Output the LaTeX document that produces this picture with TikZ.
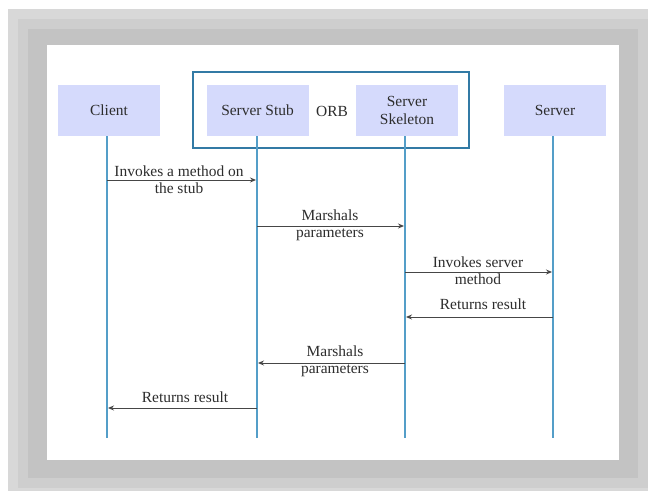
\documentclass[tikz,border=0pt]{standalone}
\usepackage{fontspec}
\setmainfont{Liberation Serif}
\usetikzlibrary{arrows.meta}
\definecolor{fr1}{RGB}{216,216,216}
\definecolor{fr2}{RGB}{206,206,206}
\definecolor{fr3}{RGB}{195,195,195}
\definecolor{boxfill}{RGB}{213,218,252}
\definecolor{orbblue}{RGB}{50,122,165}
\definecolor{lifeblue}{RGB}{84,158,200}
\definecolor{msgcol}{RGB}{70,70,70}
\definecolor{txtcol}{RGB}{45,45,45}
\tikzset{
  actor/.style={fill=boxfill, draw=none, minimum width=102bp, minimum height=51bp,
    inner sep=0pt, align=center, font=\fontsize{15.5}{18}\selectfont, text=txtcol},
  lifeline/.style={draw=lifeblue, line width=2bp},
  msg/.style={draw=msgcol, line width=0.9bp, -{Stealth[length=6bp,width=5bp]}},
  lbl/.style={align=center, font=\fontsize{15.5}{17}\selectfont, text=txtcol, inner sep=0pt},
}
\begin{document}
\begin{tikzpicture}[x=1bp,y=-1bp]
\useasboundingbox (0,0) rectangle (648,491);
% frame
\fill[fr1] (8,9) rectangle (648,491);
\fill[fr2] (18,19) rectangle (648,488);
\fill[fr3] (28,29) rectangle (638,478);
\fill[white] (47,45) rectangle (619,460);
% ORB box
\node[draw=orbblue, line width=1.6bp, minimum width=276bp, minimum height=76bp, inner sep=0pt] (orb) at (331,110) {};
% actors
\node[actor] (client) at (109,110.5) {Client};
\node[actor] (stub) at (257.5,110.5) {Server Stub};
\node[actor] (skel) at (407,110.5) {Server\\Skeleton};
\node[actor] (server) at (555,110.5) {Server};
\node[lbl] (orblbl) at (332,111) {ORB};
% lifeline ends
\coordinate (clientend) at (107,438);
\coordinate (stubend) at (257,438);
\coordinate (skelend) at (405,438);
\coordinate (serverend) at (553,438);
\draw[lifeline] (client.south -| clientend) -- (clientend);
\draw[lifeline] (stub.south -| stubend) -- (stubend);
\draw[lifeline] (skel.south -| skelend) -- (skelend);
\draw[lifeline] (server.south -| serverend) -- (serverend);
% message anchor points
\coordinate (m1a) at (107,180); \coordinate (m1b) at (256,180);
\coordinate (m2a) at (257,226); \coordinate (m2b) at (404,226);
\coordinate (m3a) at (405,272); \coordinate (m3b) at (552,272);
\coordinate (m4a) at (553,317); \coordinate (m4b) at (406,317);
\coordinate (m5a) at (405,363); \coordinate (m5b) at (258,363);
\coordinate (m6a) at (257,408); \coordinate (m6b) at (108,408);
\draw[msg] (m1a) -- (m1b);
\draw[msg] (m2a) -- (m2b);
\draw[msg] (m3a) -- (m3b);
\draw[msg] (m4a) -- (m4b);
\draw[msg] (m5a) -- (m5b);
\draw[msg] (m6a) -- (m6b);
% labels
\node[lbl] (l1) at (179,179.5) {Invokes a method on\\the stub};
\node[lbl] (l2) at (330,225) {Marshals\\parameters};
\node[lbl] (l3) at (478,271) {Invokes server\\method};
\node[lbl] (l4) at (483,304) {Returns result};
\node[lbl] (l5) at (335,361) {Marshals\\parameters};
\node[lbl] (l6) at (185,397) {Returns result};
\end{tikzpicture}
\end{document}
